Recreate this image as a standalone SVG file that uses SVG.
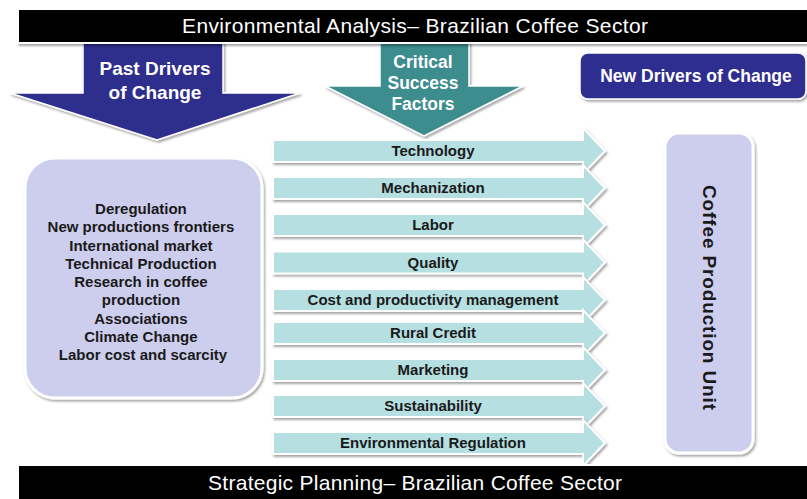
<svg xmlns="http://www.w3.org/2000/svg" width="807" height="499" viewBox="0 0 807 499">
<defs>
<filter id="sh" x="-10%" y="-10%" width="130%" height="130%">
<feDropShadow dx="1.5" dy="2" stdDeviation="1.2" flood-color="#000" flood-opacity="0.35"/>
</filter>
<path id="arw" d="M0,-11 H310 V-23 L332,0 L310,23 V11 H0 Z"/>
</defs>
<style>
.bn{fill:#000;stroke:#fff;stroke-width:2}
.bt{font-family:"Liberation Sans",Arial,sans-serif;font-size:21px;fill:#fff}
.wt{font-family:"Liberation Sans",Arial,sans-serif;font-weight:bold;fill:#fff;text-anchor:middle}
.dk{font-family:"Liberation Sans",Arial,sans-serif;font-weight:bold;fill:#1a1a1a;text-anchor:middle}
.lav{fill:#CDCDEE;stroke:#fff;stroke-width:3;filter:url(#sh)}
.ca{fill:#B5DFE1;stroke:#fff;stroke-width:2;filter:url(#sh)}
.al{font-size:15px}
</style>
<rect width="807" height="499" fill="#fff"/>

<g id="past-drivers">
<polygon points="83,40 223,40 223,93 300,93 157,140 10,93 83,93" fill="#2D2E8C" stroke="#fff" stroke-width="1.5" filter="url(#sh)"/>
<text class="wt" x="155" y="75" font-size="19">Past Drivers</text>
<text class="wt" x="155" y="99" font-size="19">of Change</text>
</g>

<g id="critical-success-factors">
<polygon points="380,40 469,40 469,86 523,86 424,136 325,86 380,86" fill="#3C8C8E" stroke="#fff" stroke-width="1.5" filter="url(#sh)"/>
<text class="wt" x="423" y="68" font-size="17.5">Critical</text>
<text class="wt" x="423" y="89" font-size="17.5">Success</text>
<text class="wt" x="423" y="110" font-size="17.5">Factors</text>
</g>

<g id="top-banner">
<rect class="bn" x="18" y="9" width="800" height="34" filter="url(#sh)"/>
<text class="bt" x="182" y="33" textLength="466" lengthAdjust="spacing">Environmental Analysis– Brazilian Coffee Sector</text>
</g>

<g id="new-drivers">
<rect x="580" y="53" width="226" height="46" rx="8" fill="#2E2E90" stroke="#fff" stroke-width="1.5" filter="url(#sh)"/>
<text class="wt" x="696" y="82" font-size="17.5">New Drivers of Change</text>
</g>

<g id="past-drivers-list">
<rect class="lav" x="25" y="158" width="237" height="240" rx="30"/>
<text class="dk" font-size="15">
<tspan x="143" y="214">Deregulation</tspan>
<tspan x="143" y="232.3">New productions frontiers</tspan>
<tspan x="143" y="250.5">International market</tspan>
<tspan x="143" y="268.8">Technical Production</tspan>
<tspan x="143" y="287">Research in coffee</tspan>
<tspan x="143" y="305.3">production</tspan>
<tspan x="143" y="323.5">Associations</tspan>
<tspan x="143" y="341.8">Climate Change</tspan>
<tspan x="143" y="360">Labor cost and scarcity</tspan>
</text>
</g>

<g id="csf-technology"><use href="#arw" class="ca" transform="translate(273,151)"/><text class="dk al" x="433" y="156">Technology</text></g>
<g id="csf-mechanization"><use href="#arw" class="ca" transform="translate(273,188)"/><text class="dk al" x="433" y="193">Mechanization</text></g>
<g id="csf-labor"><use href="#arw" class="ca" transform="translate(273,225)"/><text class="dk al" x="433" y="230">Labor</text></g>
<g id="csf-quality"><use href="#arw" class="ca" transform="translate(273,262.5)"/><text class="dk al" x="433" y="267.5">Quality</text></g>
<g id="csf-cost"><use href="#arw" class="ca" transform="translate(273,300)"/><text class="dk al" x="433" y="305">Cost and productivity management</text></g>
<g id="csf-rural-credit"><use href="#arw" class="ca" transform="translate(273,333)"/><text class="dk al" x="433" y="338">Rural Credit</text></g>
<g id="csf-marketing"><use href="#arw" class="ca" transform="translate(273,370)"/><text class="dk al" x="433" y="375">Marketing</text></g>
<g id="csf-sustainability"><use href="#arw" class="ca" transform="translate(273,406)"/><text class="dk al" x="433" y="411">Sustainability</text></g>
<g id="csf-environmental-regulation"><use href="#arw" class="ca" transform="translate(273,443)"/><text class="dk al" x="433" y="448">Environmental Regulation</text></g>

<g id="coffee-production-unit">
<rect class="lav" x="665" y="133" width="88" height="320" rx="14"/>
<text class="dk" font-size="19" transform="translate(703,297.5) rotate(90)" x="0" y="0" textLength="225" lengthAdjust="spacing">Coffee Production Unit</text>
</g>

<g id="connectors"></g>

<g id="bottom-banner">
<rect class="bn" x="18" y="465" width="800" height="40"/>
<text class="bt" x="208" y="490" font-size="20" textLength="414" lengthAdjust="spacing">Strategic Planning– Brazilian Coffee Sector</text>
</g>
</svg>
